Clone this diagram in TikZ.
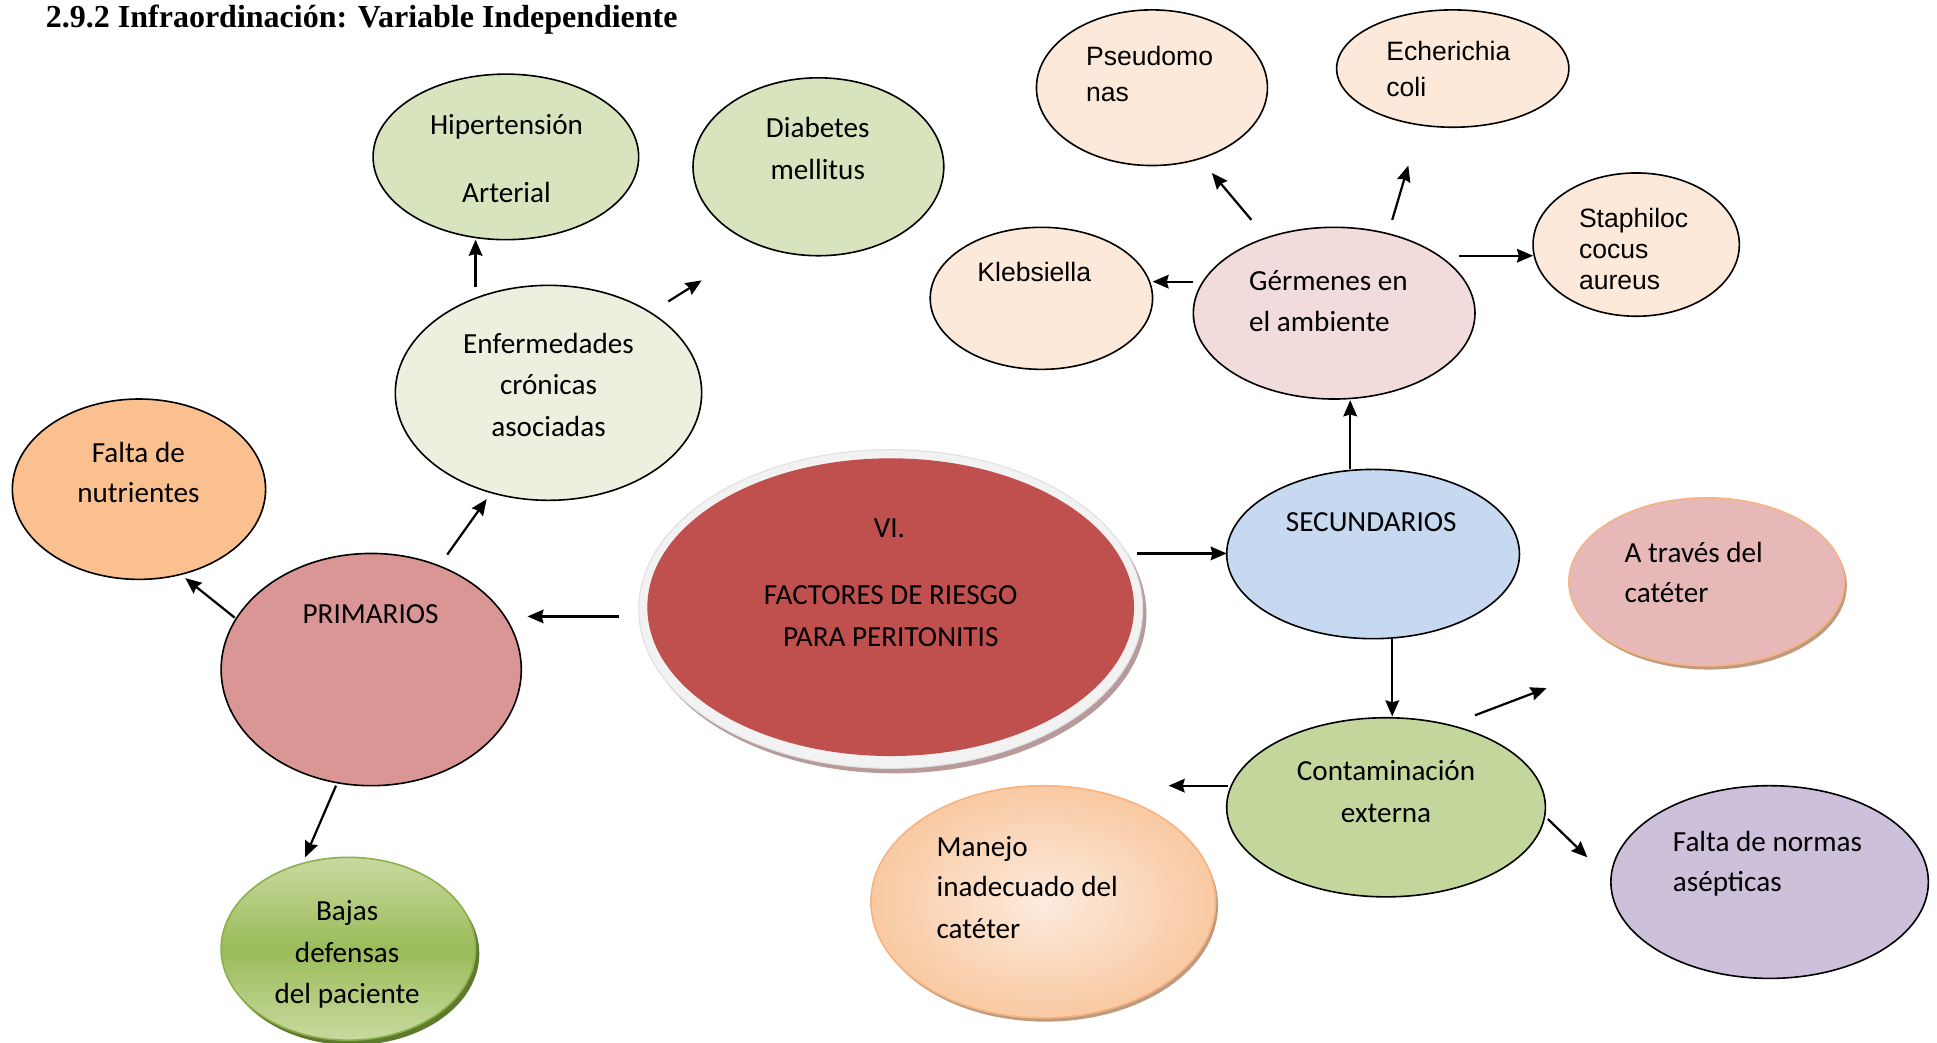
\documentclass[tikz,border=0pt]{standalone}
\usepackage{fontspec}
\setmainfont{Carlito}
\newfontfamily\arialf{Liberation Sans}
\newfontfamily\timesf{Liberation Serif}
\usetikzlibrary{shapes.geometric,arrows.meta}
\definecolor{cHip}{HTML}{D7E4BD}
\definecolor{cEnf}{HTML}{EBF1DE}
\definecolor{cNut}{HTML}{FAC090}
\definecolor{cPri}{HTML}{D99694}
\definecolor{cBajT}{HTML}{C8DA9F}
\definecolor{cBajM}{HTML}{9BBB59}
\definecolor{cBajO}{HTML}{8DB04C}
\definecolor{cBajS}{HTML}{5E7A2C}
\definecolor{cRed}{HTML}{C0504D}
\definecolor{cRing}{HTML}{F2F2F2}
\definecolor{cRingS}{HTML}{B89A9A}
\definecolor{cSec}{HTML}{C6D9F1}
\definecolor{cGer}{HTML}{F2DCDB}
\definecolor{cBac}{HTML}{FDE9D9}
\definecolor{cAtr}{HTML}{E6B9B8}
\definecolor{cOrO}{HTML}{F6B482}
\definecolor{cShd}{HTML}{C09A7E}
\definecolor{cCon}{HTML}{C3D69B}
\definecolor{cManI}{HTML}{FDEBDD}
\definecolor{cManO}{HTML}{F9C9A2}
\definecolor{cNor}{HTML}{CCC0DA}
\begin{document}
\begin{tikzpicture}[x=1pt,y=-1pt,
  ell/.style={ellipse, draw=black, line width=1.3pt, inner sep=0pt},
  sz/.style 2 args={minimum width=#1pt, minimum height=#2pt},
  shd/.style={ellipse, inner sep=0pt, draw=none},
  txt/.style={font=\fontsize{23.6}{33.5}\selectfont, inner sep=0pt, anchor=base},
  ltxt/.style={font=\fontsize{23.6}{33.5}\selectfont, inner sep=0pt, anchor=base west},
  atxt/.style={font=\arialf\fontsize{21.5}{29}\selectfont, inner sep=0pt, anchor=base west},
  arr/.style={line width=1.8pt, -{Stealth[length=13pt,width=11pt,inset=1.5pt]}},
]
\useasboundingbox (0,0) rectangle (1568,844);

% title
\node[anchor=base west, inner sep=0pt, font=\timesf\bfseries\fontsize{25.9}{30}\selectfont] (title) at (37,22) {2.9.2 Infraordinación: Variable Independiente};

% ellipses
\node[ell, fill=cHip, sz={215}{134}] (hip) at (409.5,127) {};
\node[ell, fill=cHip, sz={203}{144}] (dia) at (662.5,135) {};
\node[ell, fill=cEnf, sz={248}{174}] (enf) at (444,318) {};
\node[ell, fill=cNut, sz={205}{146}] (nut) at (112.5,396) {};
\node[ell, fill=cPri, sz={243}{188}] (pri) at (300.5,542) {};
\node[shd, fill=cBajS, sz={206}{148}] (bajs) at (285,772) {};
\node[ellipse, inner sep=0pt, draw=cBajO, line width=1.3pt, top color=cBajT, bottom color=cBajT, middle color=cBajM, sz={206}{148}] (baj) at (282,768) {};

% central
\node[shd, fill=cRingS, sz={408}{258}] (cens) at (724,497) {};
\node[ellipse, inner sep=0pt, fill=cRing, draw=gray!25, line width=0.8pt, sz={408}{258}] (ring) at (721,493) {};
\node[ellipse, inner sep=0pt, fill=cRed, sz={394}{241}] (cen) at (721,491.5) {};

\node[ell, fill=cSec, sz={237}{137}] (sec) at (1111.5,448.5) {};
\node[ell, fill=cGer, sz={228}{139}] (ger) at (1080,253.5) {};
\node[ell, fill=cBac, sz={180}{115}] (kle) at (843,241.5) {};
\node[ell, fill=cBac, sz={187}{126}] (pse) at (932.5,71) {};
\node[ell, fill=cBac, sz={188}{95}] (ech) at (1176,55.5) {};
\node[ell, fill=cBac, sz={167}{116}] (sta) at (1324.5,198) {};

\node[shd, fill=cShd, sz={223}{136}] (atrs) at (1383.5,474) {};
\node[ellipse, inner sep=0pt, fill=cAtr, draw=cOrO, line width=1.3pt, sz={223}{136}] (atr) at (1381.5,471) {};

\node[ell, fill=cCon, sz={258}{145}] (con) at (1122,653.5) {};

\node[shd, fill=cShd, sz={279}{188}] (mans) at (846.5,733) {};
\node[ellipse, inner sep=0pt, draw=cOrO, line width=1.3pt, inner color=cManI, outer color=cManO, sz={279}{188}] (man) at (844.5,730) {};

\node[ell, fill=cNor, sz={257}{156}] (nor) at (1432.5,714) {};

% texts
\node[txt] (t1) at (410,109) {Hipertensión};
\node[txt] (t2) at (410,164) {Arterial};
\node[txt] (t3) at (662,111) {Diabetes};
\node[txt] (t4) at (662,145) {mellitus};
\node[txt] (t5) at (444,286) {Enfermedades};
\node[txt] (t6) at (444,319) {crónicas};
\node[txt] (t7) at (444,353) {asociadas};
\node[txt] (t8) at (112,374) {Falta de};
\node[txt] (t9) at (112,407) {nutrientes};
\node[txt] (t10) at (300,505) {PRIMARIOS};
\node[txt] (t11) at (281,745) {Bajas};
\node[txt] (t12) at (281,779) {defensas};
\node[txt] (t13) at (281,812) {del paciente};
\node[txt] (t14) at (720,435) {VI.};
\node[txt] (t15) at (721,489) {FACTORES DE RIESGO};
\node[txt] (t16) at (721,523) {PARA PERITONITIS};
\node[txt] (t17) at (1110,430) {SECUNDARIOS};
\node[ltxt] (t18) at (1011,235) {Gérmenes en};
\node[ltxt] (t19) at (1011,268) {el ambiente};
\node[atxt] (t20) at (791,228) {Klebsiella};
\node[atxt] (t21) at (879,53) {Pseudomo};
\node[atxt] (t22) at (879,82) {nas};
\node[atxt] (t23) at (1122,49) {Echerichia};
\node[atxt] (t24) at (1122,78) {coli};
\node[atxt] (t25) at (1278,184) {Staphiloc};
\node[atxt] (t26) at (1278,209) {cocus};
\node[atxt] (t27) at (1278,234) {aureus};
\node[ltxt] (t28) at (1315,455) {A través del};
\node[ltxt] (t29) at (1315,488) {catéter};
\node[txt] (t30) at (1122,632) {Contaminación};
\node[txt] (t31) at (1122,666) {externa};
\node[ltxt] (t32) at (758,693) {Manejo};
\node[ltxt] (t33) at (758,726) {inadecuado del};
\node[ltxt] (t34) at (758,760) {catéter};
\node[ltxt] (t35) at (1354,689) {Falta de normas};
\node[ltxt] (t36) at (1354,722) {asépticas};

% arrow end points
\coordinate (a1s) at (501,499);  \coordinate (a1e) at (427,499);
\coordinate (a2s) at (362,449);  \coordinate (a2e) at (394,404);
\coordinate (a3s) at (190,500);  \coordinate (a3e) at (150,468);
\coordinate (a4s) at (272,636);  \coordinate (a4e) at (247,694);
\coordinate (a5s) at (385,232);  \coordinate (a5e) at (385,194);
\coordinate (a6s) at (541,244);  \coordinate (a6e) at (568,227);
\coordinate (a7s) at (920,448);  \coordinate (a7e) at (993,448);
\coordinate (a8s) at (1093,380); \coordinate (a8e) at (1093,324);
\coordinate (a9s) at (966,228);  \coordinate (a9e) at (933,228);
\coordinate (a10s) at (1013,178); \coordinate (a10e) at (981,140);
\coordinate (a11s) at (1127,178); \coordinate (a11e) at (1140,134);
\coordinate (a12s) at (1181,207); \coordinate (a12e) at (1241,207);
\coordinate (a13s) at (1127,517); \coordinate (a13e) at (1127,580);
\coordinate (a14s) at (1194,579); \coordinate (a14e) at (1252,557);
\coordinate (a15s) at (994,636);  \coordinate (a15e) at (946,636);
\coordinate (a16s) at (1253,663); \coordinate (a16e) at (1285,694);

\foreach \i in {1,...,16} {\draw[arr] (a\i s) -- (a\i e);}
\end{tikzpicture}
\end{document}
